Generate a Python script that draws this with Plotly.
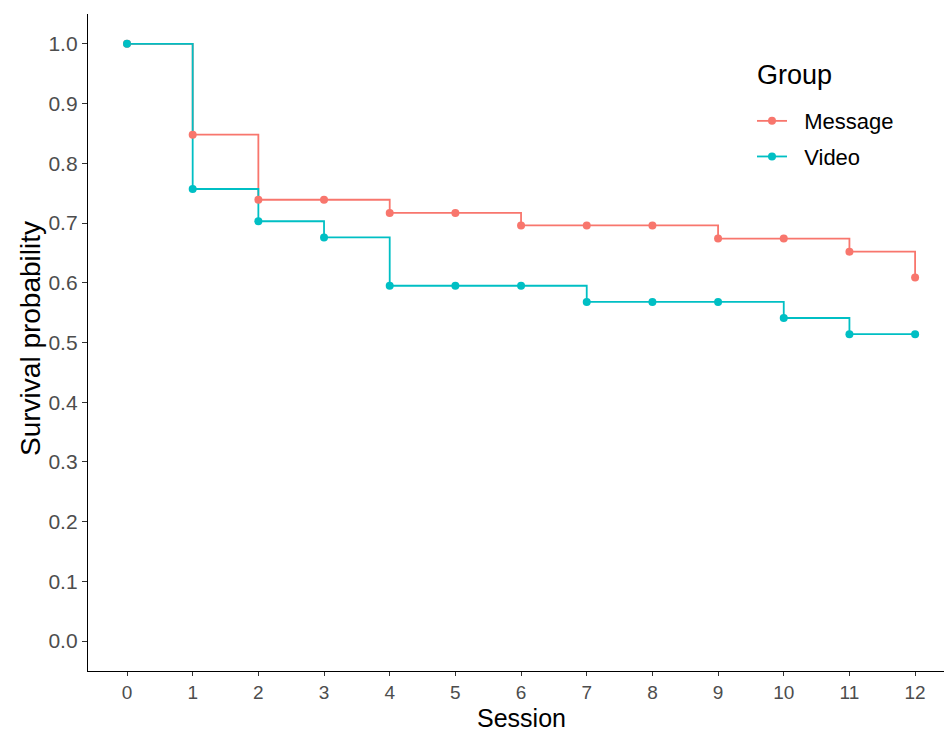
import plotly.graph_objects as go

sessions = [0, 1, 2, 3, 4, 5, 6, 7, 8, 9, 10, 11, 12]
message_surv = [1.0, 0.848, 0.739, 0.739, 0.717, 0.717, 0.696, 0.696, 0.696, 0.674, 0.674, 0.652, 0.609]
video_surv = [1.0, 0.757, 0.703, 0.676, 0.595, 0.595, 0.595, 0.568, 0.568, 0.568, 0.541, 0.514, 0.514]
groups = ["Message", "Video"]
colors = {"Message": "#F8766D", "Video": "#00BFC4"}
y_ticks = [0.0, 0.1, 0.2, 0.3, 0.4, 0.5, 0.6, 0.7, 0.8, 0.9, 1.0]
legend_title = "Group"
x_title = "Session"
y_title = "Survival probability"

data = {"Message": message_surv, "Video": video_surv}

fig = go.Figure()
# step lines
for g in groups:
    fig.add_trace(go.Scatter(x=sessions, y=data[g], mode="lines", line_shape="hv",
                             line=dict(color=colors[g], width=1.8), showlegend=False,
                             hoverinfo="skip"))
# points
for g in groups:
    fig.add_trace(go.Scatter(x=sessions, y=data[g], mode="markers",
                             marker=dict(color=colors[g], size=8), showlegend=False))
# legend entries
for g in groups:
    fig.add_trace(go.Scatter(x=[None], y=[None], mode="lines+markers",
                             name="\u00a0\u00a0" + g, legendgroup=g,
                             line=dict(color=colors[g], width=1.8),
                             marker=dict(color=colors[g], size=8)))

fig.add_annotation(text=legend_title, xref="paper", yref="paper",
                   x=0.7792, y=0.9072, xanchor="left", yanchor="middle",
                   showarrow=False, font=dict(size=27, color="black"))
fig.add_annotation(text=x_title, xref="paper", yref="paper",
                   x=(521 - 88) / 856, y=(671 - 718) / 657, xanchor="center", yanchor="middle",
                   showarrow=False, borderpad=0, font=dict(size=25, color="black"))
fig.add_annotation(text=y_title, xref="paper", yref="paper", textangle=-90,
                   x=-0.0678, y=(671 - 338) / 657, xanchor="center", yanchor="middle",
                   showarrow=False, font=dict(size=28, color="black"))

fig.update_layout(
    width=944, height=733,
    margin=dict(l=88, r=0, t=14, b=62),
    plot_bgcolor="white", paper_bgcolor="white",
    font=dict(family="Liberation Sans, Arial, sans-serif"),
    legend=dict(font=dict(size=22, color="black"),
                x=0.7757, y=0.869, xanchor="left", yanchor="top",
                bgcolor="rgba(0,0,0,0)", itemwidth=30, tracegroupgap=4,
                traceorder="grouped"),
    xaxis=dict(range=[-0.594, 12.44], tickmode="array", tickvals=sessions,
               ticktext=[str(s) for s in sessions],
               showline=True, linecolor="black", linewidth=1.3,
               ticks="outside", ticklen=4, tickcolor="#333333", tickwidth=1.3,
               showgrid=False, zeroline=False,
               tickfont=dict(size=19, color="#4D4D4D")),
    yaxis=dict(range=[-0.05, 1.05], tickmode="array", tickvals=y_ticks,
               ticktext=[f"{v:.1f}" for v in y_ticks],
               showline=True, linecolor="black", linewidth=1.3,
               ticks="outside", ticklen=5, tickcolor="#333333", tickwidth=1.3,
               showgrid=False, zeroline=False,
               tickfont=dict(size=21, color="#4D4D4D")),
)

fig.write_html("out.html")
